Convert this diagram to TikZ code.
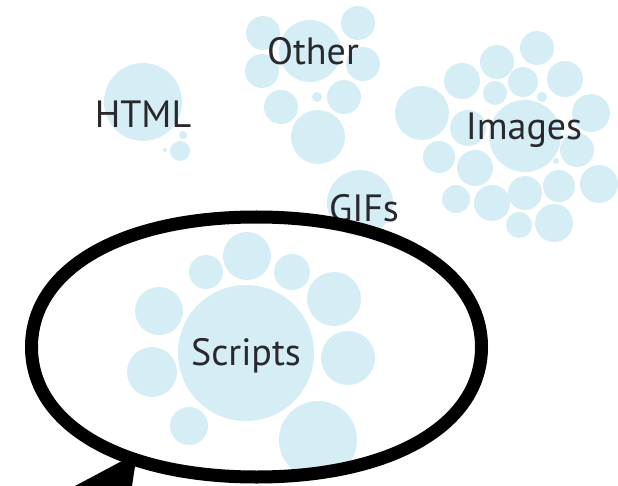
\documentclass[tikz,border=0pt]{standalone}
\usepackage{fontspec}
\setmainfont{PT Sans}
\definecolor{bubblecol}{RGB}{213,237,245}
\definecolor{labelcol}{RGB}{40,40,45}
\tikzset{
  bubble/.style={fill=bubblecol},
  lbl/.style={text=labelcol, font=\fontsize{38}{40}\selectfont, anchor=base, inner sep=0pt},
  ring/.style={line width=13pt, draw=black},
}
\begin{document}
\begin{tikzpicture}[x=1pt,y=-1pt]
			\useasboundingbox (0,0) rectangle (618,486);
			\clip (0,0) rectangle (618,486);

			% HTML
			\foreach \cx/\cy/\r in {143/102/39, 180/151/10, 183/135/4, 165/150/2}{
					\fill[bubble] (\cx,\cy) circle (\r pt);
				}

			% Other
			\foreach \cx/\cy/\r in {263/33/17, 310/51/31, 358/23/17, 363/64/17,
					262/71/17, 281/107/17, 317/97/5, 344/97/17, 318/137/27}{
					\fill[bubble] (\cx,\cy) circle (\r pt);
				}

			% GIFs
			\fill[bubble] (360,203) circle (33pt);

			% Images
			\foreach \cx/\cy/\r in {422/113/27, 537/48/17, 497/62/17, 462/81/18,
					523/82/15, 565/79/18, 495/93/12, 542/97/5, 591/113/19,
					525/136/36, 468/128/18, 439/157/16, 475/168/18, 577/150/17,
					599/184/19, 456/199/14, 492/203/18, 525/193/17, 559/186/16,
					519/225/13, 554/223/19, 556/161/3}{
					\fill[bubble] (\cx,\cy) circle (\r pt);
				}

			% Scripts
			\foreach \cx/\cy/\r in {246/353/68, 247/256/24, 206/272/17, 292/272/18,
					334/299/27, 348/358/27, 318/440/39, 159/311/24, 152/372/25,
					189/426/19}{
					\fill[bubble] (\cx,\cy) circle (\r pt);
				}

			% Labels
			\node[lbl] (html) at (143,128) {HTML};
			\node[lbl] (other) at (313,65) {Other};
			\node[lbl] (images) at (524,140) {Images};
			\node[lbl] (gifs) at (364,222) {GIFs};
			\node[lbl] (scripts) at (246,365) {Scripts};

			% Ring round Scripts
			\draw[ring] (31.5,347) .. controls (31.5,269) and (121.5,217) .. (256.5,217)
				.. controls (391.5,217) and (481.5,269) .. (481.5,347)
				.. controls (481.5,425) and (391.5,477) .. (256.5,477)
				.. controls (121.5,477) and (31.5,425) .. (31.5,347) -- cycle;

			% Pointer
			\coordinate (tip) at (137,453);
			\fill[black] (tip) -- ++(-124,66) -- ++(114,0) -- cycle;
		\end{tikzpicture}
\end{document}
